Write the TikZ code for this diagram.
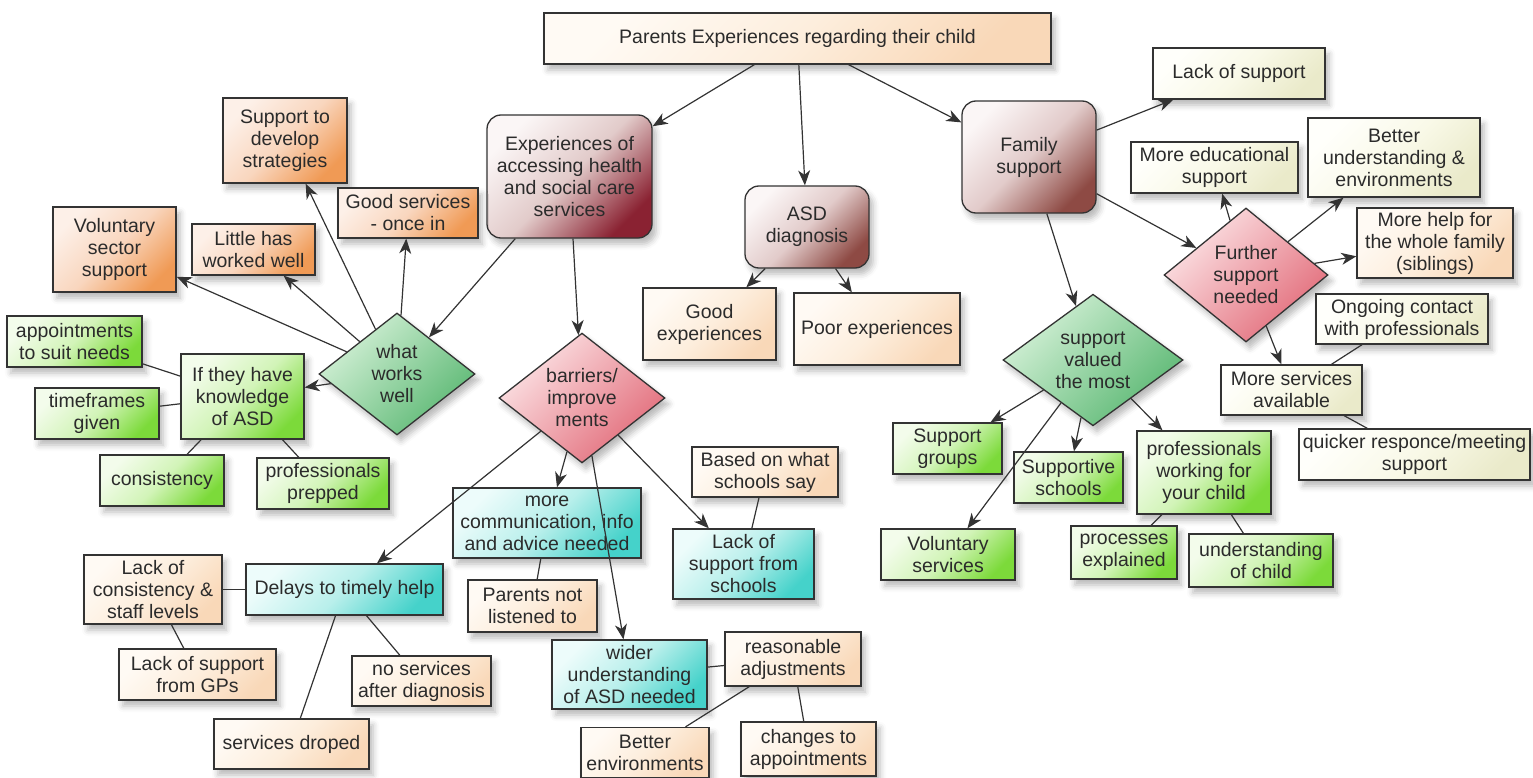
\documentclass[tikz,border=0pt]{standalone}
\usepackage{fontspec}
\setmainfont{Liberation Sans}
\usepackage{tikz}
\usetikzlibrary{arrows.meta}
\usetikzlibrary{shapes.geometric}
\usetikzlibrary{shadows.blur}
\definecolor{TextGray}{HTML}{2B2B2B}
\definecolor{OrangeHi}{HTML}{FDF0E8}
\definecolor{OrangeMid}{HTML}{F9D6BE}
\definecolor{OrangeLo}{HTML}{F09A55}
\definecolor{GreenHi}{HTML}{F3FCEB}
\definecolor{GreenMid}{HTML}{D2F4B8}
\definecolor{GreenLo}{HTML}{7CDA3A}
\definecolor{PeachHi}{HTML}{FFFAF4}
\definecolor{PeachMid}{HTML}{FDEEDD}
\definecolor{PeachLo}{HTML}{F9D8B8}
\definecolor{CreamHi}{HTML}{FFFFFB}
\definecolor{CreamMid}{HTML}{F9F9E8}
\definecolor{CreamLo}{HTML}{EAEACA}
\definecolor{CyanHi}{HTML}{EDFCFB}
\definecolor{CyanMid}{HTML}{B8EFEB}
\definecolor{CyanLo}{HTML}{45D2CA}
\definecolor{BrownHi}{HTML}{FBF6F6}
\definecolor{BrownMid}{HTML}{E2CBCA}
\definecolor{BrownLo}{HTML}{8E4A44}
\definecolor{ExpLo}{HTML}{8A2232}
\definecolor{GDiaHi}{HTML}{D5F1D8}
\definecolor{GDiaLo}{HTML}{5BB873}
\definecolor{RDiaHi}{HTML}{FCE4E6}
\definecolor{RDiaLo}{HTML}{E26B79}

\begin{document}
\begin{tikzpicture}[x=1pt, y=-1pt, >={Stealth[length=15pt,width=12pt,inset=4.5pt]},
  every node/.style={font=\fontsize{19.5}{22}\selectfont, text=TextGray, align=center, inner sep=2pt},
  sz/.style 2 args={minimum width=#1, minimum height=#2},
  box/.style={draw=black!80, line width=1.3pt,
    blur shadow={shadow xshift=4pt, shadow yshift=-6pt, shadow blur radius=6pt, shadow opacity=28}},
  orangebox/.style={box, top color=OrangeHi, bottom color=OrangeLo, middle color=OrangeMid, shading angle=45},
  greenbox/.style={box, top color=GreenHi, bottom color=GreenLo, middle color=GreenMid, shading angle=45},
  peachbox/.style={box, top color=PeachHi, bottom color=PeachLo, middle color=PeachMid, shading angle=45},
  creambox/.style={box, top color=CreamHi, bottom color=CreamLo, middle color=CreamMid, shading angle=45},
  cyanbox/.style={box, top color=CyanHi, bottom color=CyanLo, middle color=CyanMid, shading angle=45},
  brownbox/.style={box, rounded corners=14pt, top color=BrownHi, bottom color=BrownLo, middle color=BrownMid, shading angle=45},
  gdia/.style={box, diamond, inner sep=0pt, top color=GDiaHi, bottom color=GDiaLo, shading angle=45},
  rdia/.style={box, diamond, inner sep=0pt, top color=RDiaHi, bottom color=RDiaLo, shading angle=45},
  conn/.style={line width=1.2pt, draw=black!80}]
\useasboundingbox (0,0) rectangle (1533,778);

\node[peachbox, sz={507}{51}] (root) at (797.5,38.5) {Parents Experiences regarding their child};
\node[brownbox, sz={165}{123}, bottom color=ExpLo, middle color=BrownMid, shading angle=45] (exp) at (569.5,176.5) {Experiences of\\accessing health\\and social care\\services};
\node[brownbox, sz={124}{82}] (asd) at (807,227) {ASD\\diagnosis};
\node[brownbox, sz={134}{112}] (family) at (1029,157) {Family\\support};

\node[orangebox, sz={124}{85}] (strat) at (285,140.5) {Support to\\develop\\strategies};
\node[orangebox, sz={140}{50}] (goodserv) at (408,213) {Good services\\- once in};
\node[orangebox, sz={123}{85}] (volsec) at (114.5,249.5) {Voluntary\\sector\\support};
\node[orangebox, sz={123}{51}] (little) at (253.5,249.5) {Little has\\worked well};

\node[gdia, sz={156}{122}] (works) at (397,374) {what\\works\\well};
\node[greenbox, sz={123}{85}] (ifthey) at (242.5,396.5) {If they have\\knowledge\\of ASD};
\node[greenbox, sz={135}{51}] (appts) at (74.5,341.5) {appointments\\to suit needs};
\node[greenbox, sz={124}{51}] (timeframes) at (97,413.5) {timeframes\\given};
\node[greenbox, sz={124}{51}] (consist) at (162,480.5) {consistency};
\node[greenbox, sz={132}{51}] (prepped) at (323,483.5) {professionals\\prepped};

\node[rdia, sz={166}{122}] (barriers) at (582,398) {barriers/\\improve\\ments};
\node[cyanbox, sz={188}{70}] (morecomm) at (547,523) {more\\communication, info\\and advice needed};
\node[peachbox, sz={129}{52}] (parents) at (532.5,606) {Parents not\\listened to};
\node[cyanbox, sz={155}{69}] (wider) at (629.5,674.5) {wider\\understanding\\of ASD needed};
\node[peachbox, sz={136}{54}] (reasonable) at (793,659) {reasonable\\adjustments};
\node[peachbox, sz={128}{50}] (betterenv) at (645,752.5) {Better\\environments};
\node[peachbox, sz={135}{54}] (changes) at (808.5,749) {changes to\\appointments};
\node[cyanbox, sz={141}{70}] (lackschool) at (743.5,564) {Lack of\\support from\\schools};
\node[peachbox, sz={146}{50}] (based) at (765,472) {Based on what\\schools say};

\node[cyanbox, sz={197}{51}] (delays) at (344.5,589.5) {Delays to timely help};
\node[peachbox, sz={138}{69}] (lackcons) at (153,589.5) {Lack of\\consistency \&\\staff levels};
\node[peachbox, sz={157}{51}] (gps) at (197.5,674.5) {Lack of support\\from GPs};
\node[peachbox, sz={139}{50}] (noserv) at (421.5,681) {no services\\after diagnosis};
\node[peachbox, sz={155}{50}] (droped) at (291.5,744) {services droped};

\node[peachbox, sz={133}{72}] (goodexp) at (709.5,324) {Good\\experiences};
\node[peachbox, sz={166}{72}] (poorexp) at (877,329) {Poor experiences};

\node[creambox, sz={172}{51}] (lacksup) at (1239,73.5) {Lack of support};
\node[creambox, sz={167}{51}] (moreedu) at (1214.5,167.5) {More educational\\support};
\node[creambox, sz={172}{79}] (better) at (1394,157.5) {Better\\understanding \&\\environments};
\node[peachbox, sz={156}{70}] (morehelp) at (1435,243) {More help for\\the whole family\\(siblings)};
\node[rdia, sz={164}{134}] (further) at (1246,275) {Further\\support\\needed};
\node[creambox, sz={172}{50}] (ongoing) at (1402,319) {Ongoing contact\\with professionals};
\node[creambox, sz={141}{50}] (moreserv) at (1291.5,390) {More services\\available};
\node[creambox, sz={231}{51}] (quicker) at (1414.5,454.5) {quicker responce/meeting\\support};

\node[gdia, sz={180}{124}] (valued) at (1093,360) {support\\valued\\the most};
\node[greenbox, sz={109}{51}] (supgroups) at (947.5,448.5) {Support\\groups};
\node[greenbox, sz={109}{51}] (supschools) at (1068.5,477.5) {Supportive\\schools};
\node[greenbox, sz={134}{83}] (profwork) at (1204,472.5) {professionals\\working for\\your child};
\node[greenbox, sz={134}{51}] (volserv) at (948,554.5) {Voluntary\\services};
\node[greenbox, sz={106}{53}] (processes) at (1124,552.5) {processes\\explained};
\node[greenbox, sz={144}{53}] (underchild) at (1261,560.5) {understanding\\of child};

\foreach \a / \b in {root/exp, root/asd, root/family, exp/works, exp/barriers,
    works/strat, works/goodserv, works/little, works/volsec, works/ifthey,
    barriers/delays, barriers/morecomm, barriers/wider, barriers/lackschool,
    asd/goodexp, asd/poorexp, family/lacksup, family/further, family/valued,
    further/moreedu, further/better, further/morehelp, further/moreserv,
    valued/supgroups, valued/supschools, valued/profwork, valued/volserv}
  \draw[conn, ->] (\a) -- (\b);

\foreach \a / \b in {ifthey/appts, ifthey/timeframes, ifthey/consist, ifthey/prepped,
    delays/lackcons, lackcons/gps, delays/droped, delays/noserv, morecomm/parents,
    based/lackschool, wider/reasonable, reasonable/betterenv, reasonable/changes,
    profwork/processes, profwork/underchild, moreserv/ongoing}
  \draw[conn] (\a) -- (\b);
\draw[conn] (moreserv.-26) -- (quicker.151);

\end{tikzpicture}
\end{document}
